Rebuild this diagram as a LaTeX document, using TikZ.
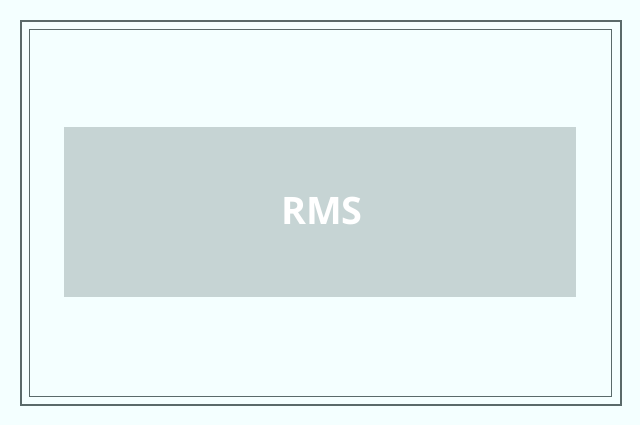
\documentclass[tikz,border=0pt]{standalone}
\usepackage{fontspec}
\setmainfont{Open Sans}
\definecolor{bgc}{HTML}{F4FFFF}
\definecolor{framec}{HTML}{5A6A6A}
\definecolor{boxc}{HTML}{C6D4D4}
\begin{document}
\begin{tikzpicture}[x=1bp,y=-1bp,
  outerframe/.style={draw=framec,line width=2bp},
  innerframe/.style={draw=framec,line width=1bp},
  bigbox/.style={fill=boxc,draw=none,inner sep=0pt,minimum width=512bp,minimum height=170bp}]
\fill[bgc] (0,0) rectangle (640,425);
\useasboundingbox (0,0) rectangle (640,425);
\draw[outerframe] (21,21) rectangle (621,405);
\draw[innerframe] (29.5,29.5) rectangle (611.5,396.5);
\node[bigbox] (box) at (320,212) {};
\node[text=white,font=\fontsize{38}{40}\selectfont\bfseries,inner sep=0pt] (lbl) at (322,210.5) {RMS};
\end{tikzpicture}
\end{document}
